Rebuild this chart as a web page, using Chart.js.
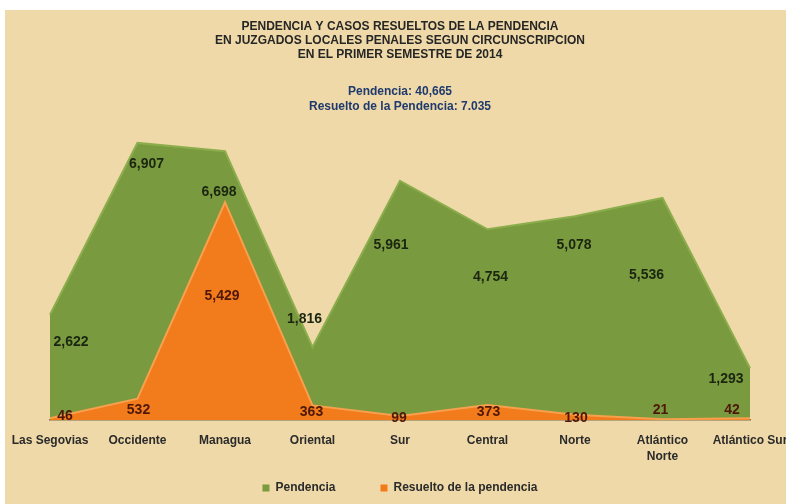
<!DOCTYPE html>
<html>
<head>
<meta charset="utf-8">
<script src="https://cdn.jsdelivr.net/npm/chart.js@4"></script>
<style>
  body { margin: 0; background: #fff; }
  #wrap { width: 786px; height: 504px; position: relative; }
</style>
</head>
<body>
<div id="wrap"><canvas id="pend-chart"></canvas></div>
<script>
const categories = [
  "Las Segovias",
  "Occidente",
  "Managua",
  "Oriental",
  "Sur",
  "Central",
  "Norte",
  ["Atlántico", "Norte"],
  "Atlántico Sur",
];
const pendencia = [2622, 6907, 6698, 1816, 5961, 4754, 5078, 5536, 1293];
const resuelto = [46, 532, 5429, 363, 99, 373, 130, 21, 42];

const titleLines = [
  "PENDENCIA Y CASOS RESUELTOS DE LA PENDENCIA",
  "EN JUZGADOS LOCALES PENALES SEGUN CIRCUNSCRIPCION",
  "EN EL PRIMER SEMESTRE DE 2014",
];
const subtitleLines = ["Pendencia: 40,665", "Resuelto de la Pendencia: 7.035"];

// nudges for the value labels (px), like the 3D labels of the original
const pendShift = [[21, 27], [9, 21], [-6, 41], [-8, -28], [-9, 64], [3, 48], [-1, 29], [-16, 77], [-24, 11]];
const resShift = [[15, -2], [1, 11], [-3, 94], [-1, 7], [-1, 2], [1, 7], [1, 3], [-2, -9], [-18, -8]];

const FONT = "Arial, 'Liberation Sans', sans-serif";

const paperBg = {
  id: "paperBg",
  beforeDraw(chart) {
    const { ctx, width, height } = chart;
    ctx.save();
    ctx.fillStyle = "#ffffff";
    ctx.fillRect(0, 0, width, height);
    ctx.fillStyle = "#EFD9A8";
    ctx.fillRect(5, 10, width - 5, height - 10);
    ctx.restore();
  },
  // x axis is made short so the legend sits low; let its labels draw below it
  afterLayout(chart) {
    chart.scales.x.bottom = chart.height;
  },
};

const valueLabels = {
  id: "valueLabels",
  afterDatasetsDraw(chart) {
    const { ctx } = chart;
    const sets = [
      { idx: 0, shift: pendShift, color: "#1b2610" },
      { idx: 1, shift: resShift, color: "#4e1707" },
    ];
    ctx.save();
    ctx.font = "bold 14px " + FONT;
    ctx.textAlign = "center";
    ctx.textBaseline = "middle";
    sets.forEach((s) => {
      const meta = chart.getDatasetMeta(s.idx);
      const vals = chart.data.datasets[s.idx].data;
      meta.data.forEach((pt, i) => {
        ctx.fillStyle = s.color;
        ctx.fillText(
          vals[i].toLocaleString("en-US"),
          pt.x + s.shift[i][0],
          pt.y + s.shift[i][1]
        );
      });
    });
    ctx.restore();
  },
};

const canvaEl = document.getElementById("pend-chart");

const pendChart = new Chart(canvaEl, {
  type: "line",
  data: {
    labels: categories,
    datasets: [
      {
        label: "Pendencia",
        data: pendencia,
        backgroundColor: "#7A9A3F",
        borderColor: "#8CAD4C",
        borderWidth: 2,
        fill: "origin",
        tension: 0,
        pointRadius: 0,
        order: 1,
      },
      {
        label: "Resuelto de la pendencia",
        data: resuelto,
        backgroundColor: "#F27B1C",
        borderColor: "#F7A04D",
        borderWidth: 2,
        fill: "origin",
        tension: 0,
        pointRadius: 0,
        order: 0,
      },
    ],
  },
  options: {
    responsive: true,
    maintainAspectRatio: false,
    animation: false,
    layout: { padding: { left: 50, right: 36, top: 0, bottom: 0 } },
    scales: {
      x: {
        offset: false,
        grid: { display: false, drawTicks: false },
        border: { display: true, color: "#7a7150", width: 1.5 },
        ticks: {
          autoSkip: false,
          maxRotation: 0,
          padding: 13,
          color: "#2b2b2b",
          font: { family: FONT, size: 12, weight: "bold", lineHeight: 1.3 },
        },
        afterFit(scale) {
          scale.paddingLeft = 0;
          scale.paddingRight = 0;
          scale.paddingTop = 0;
          scale.paddingBottom = 0;
          scale.height = 17;
        },
      },
      y: { display: false, min: 0, max: 7000 },
    },
    plugins: {
      tooltip: { enabled: false },
      title: {
        display: true,
        fullSize: false,
        text: titleLines,
        color: "#262626",
        font: { family: FONT, size: 12, weight: "bold", lineHeight: 1.2 },
        padding: { top: 19, bottom: 22 },
      },
      subtitle: {
        display: true,
        fullSize: false,
        text: subtitleLines,
        color: "#1F3A6E",
        font: { family: FONT, size: 12, weight: "bold", lineHeight: 1.25 },
        padding: { top: 0, bottom: 25 },
      },
      legend: {
        position: "bottom",
        fullSize: false,
        labels: {
          boxWidth: 7,
          boxHeight: 7,
          padding: 45,
          color: "#2b2b2b",
          font: { family: FONT, size: 12, weight: "bold" },
          sort: (a, b) => a.datasetIndex - b.datasetIndex,
          generateLabels: (chart) =>
            Chart.defaults.plugins.legend.labels
              .generateLabels(chart)
              .map((l) => ({ ...l, lineWidth: 0 })),
        },
      },
    },
  },
  plugins: [paperBg, valueLabels],
});
</script>
</body>
</html>
